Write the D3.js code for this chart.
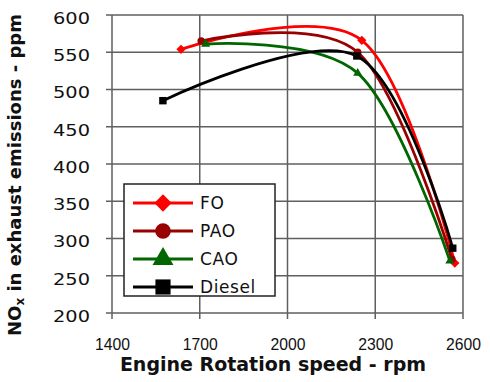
<!DOCTYPE html>
<html>
<head>
<meta charset="utf-8">
<script src="https://cdn.jsdelivr.net/npm/d3@7"></script>
<style>
  body { margin: 0; background: #fff; }
  svg { display: block; }
</style>
</head>
<body>
<div id="chart"></div>
<script>
const WIDTH  = 490;
const HEIGHT = 382;
const PLOT = { left: 112, right: 463, top: 15, bottom: 313 };

// Data
const SERIES   = ['FO', 'PAO', 'CAO', 'Diesel'];
const FO_RPM     = [1636, 2254, 2572];
const FO_NOX     = [554, 566, 267];
const PAO_RPM    = [1705, 2240, 2562];
const PAO_NOX    = [565, 550, 272];
const CAO_RPM    = [1720, 2240, 2555];
const CAO_NOX    = [561, 522, 270];
const DIESEL_RPM = [1574, 2237, 2565];
const DIESEL_NOX = [485, 545, 287];

const X_TICKS = [1400, 1700, 2000, 2300, 2600];
const Y_TICKS = [200, 250, 300, 350, 400, 450, 500, 550, 600];

const COLORS = {
  FO:     '#ff0000',
  PAO:    '#990000',
  CAO:    '#006600',
  Diesel: '#000000',
  grid:   '#5f5f5f'
};
const SYMBOLS = {
  FO:     d3.symbolDiamond2,
  PAO:    d3.symbolCircle,
  CAO:    d3.symbolTriangle,
  Diesel: d3.symbolSquare
};
const MARKER_SIZE = { FO: 55, PAO: 45, CAO: 35, Diesel: 55 };

var rows = {
  FO:     FO_RPM.map((x, i) => ({ x: x, y: FO_NOX[i] })),
  PAO:    PAO_RPM.map((x, i) => ({ x: x, y: PAO_NOX[i] })),
  CAO:    CAO_RPM.map((x, i) => ({ x: x, y: CAO_NOX[i] })),
  Diesel: DIESEL_RPM.map((x, i) => ({ x: x, y: DIESEL_NOX[i] }))
};

var xScale = d3.scaleLinear()
  .domain([1400, 2600])
  .range([PLOT.left, PLOT.right]);
var yScale = d3.scaleLinear()
  .domain([200, 600])
  .range([PLOT.bottom, PLOT.top]);

var svg = d3.select('#chart').append('svg')
  .attr('width', WIDTH)
  .attr('height', HEIGHT)
  .style('background-color', '#fff');

// Grid
var grid = svg.append('g');
grid.selectAll('.hgrid')
    .data(Y_TICKS)
  .enter().append('line')
    .attr('x1', PLOT.left - 6)
    .attr('x2', PLOT.right)
    .attr('y1', d => yScale(d))
    .attr('y2', d => yScale(d))
    .style('stroke', COLORS.grid)
    .style('stroke-width', 1.5);
grid.selectAll('.vgrid')
    .data(X_TICKS)
  .enter().append('line')
    .attr('x1', d => xScale(d))
    .attr('x2', d => xScale(d))
    .attr('y1', PLOT.top)
    .attr('y2', PLOT.bottom + 6)
    .style('stroke', COLORS.grid)
    .style('stroke-width', 1.5);

// Axes (labels only, grid draws lines)
var xAxis = svg.append('g')
  .attr('transform', `translate(0,${PLOT.bottom})`)
  .call(d3.axisBottom(xScale).tickValues(X_TICKS).tickFormat(d3.format('d')).tickSize(6).tickPadding(19));
xAxis.select('.domain').remove();
xAxis.selectAll('line').remove();
xAxis.selectAll('text')
  .attr('font-family', 'Liberation Sans, Arial, sans-serif')
  .attr('font-size', 17)
  .attr('fill', '#111')
  .attr('textLength', 35)
  .attr('lengthAdjust', 'spacingAndGlyphs');

var yAxis = svg.append('g')
  .attr('transform', `translate(${PLOT.left},0)`)
  .call(d3.axisLeft(yScale).tickValues(Y_TICKS).tickSize(6).tickPadding(16));
yAxis.select('.domain').remove();
yAxis.selectAll('line').remove();
yAxis.selectAll('text')
  .attr('font-family', 'DejaVu Sans, sans-serif')
  .attr('font-size', 15)
  .attr('fill', '#111')
  .attr('dy', '0.55em')
  .attr('textLength', 37)
  .attr('lengthAdjust', 'spacingAndGlyphs');

// Series
var line = d3.line()
  .x(d => xScale(d.x))
  .y(d => yScale(d.y))
  .curve(d3.curveCardinal.tension(0));

var plot = svg.append('g');
for (let name of SERIES) {
  let g = plot.append('g').attr('class', 'series');
  g.append('path')
    .datum(rows[name])
    .attr('d', line)
    .style('fill', 'none')
    .style('stroke', COLORS[name])
    .style('stroke-width', 2.8);
  g.selectAll('.marker')
      .data(rows[name])
    .enter().append('path')
      .attr('transform', d => `translate(${xScale(d.x)},${yScale(d.y)})`)
      .attr('d', d3.symbol().type(SYMBOLS[name]).size(MARKER_SIZE[name]))
      .style('fill', COLORS[name]);
}

// Legend
var legend = svg.append('g');
legend.append('clipPath')
    .attr('id', 'legclip')
  .append('rect')
    .attr('x', 124)
    .attr('y', 184)
    .attr('width', 151)
    .attr('height', 112);
legend.append('rect')
  .attr('x', 124)
  .attr('y', 184)
  .attr('width', 151)
  .attr('height', 112)
  .style('fill', '#fff');

var items = legend.append('g')
  .attr('clip-path', 'url(#legclip)')
  .selectAll('.item')
    .data(SERIES)
  .enter().append('g')
    .attr('transform', (d, i) => `translate(0,${203 + i * 28})`);
items.append('line')
  .attr('x1', 133)
  .attr('x2', 193)
  .style('stroke', d => COLORS[d])
  .style('stroke-width', 2.8);
items.append('path')
  .attr('transform', 'translate(163,0)')
  .attr('d', d => d3.symbol().type(SYMBOLS[d]).size(d === 'Diesel' ? 230 : 190)())
  .style('fill', d => COLORS[d]);
items.append('text')
  .attr('x', 200)
  .attr('y', 6)
  .attr('font-family', 'DejaVu Sans, sans-serif')
  .attr('font-size', 17)
  .style('letter-spacing', '0.6px')
  .attr('fill', '#111')
  .text(d => d);

legend.append('rect')
  .attr('x', 124)
  .attr('y', 184)
  .attr('width', 151)
  .attr('height', 112)
  .style('fill', 'none')
  .style('stroke', '#222')
  .style('stroke-width', 1.5);

// Axis titles
svg.append('text')
  .attr('x', 273)
  .attr('y', 371)
  .attr('text-anchor', 'middle')
  .attr('font-family', 'DejaVu Sans, sans-serif')
  .attr('font-weight', 'bold')
  .attr('font-size', 19)
  .attr('fill', '#111')
  .text('Engine Rotation speed - rpm');

var ytitle = svg.append('text')
  .attr('transform', 'translate(21,175) rotate(-90)')
  .attr('text-anchor', 'middle')
  .attr('font-family', 'DejaVu Sans, sans-serif')
  .attr('font-weight', 'bold')
  .attr('font-size', 18)
  .attr('fill', '#111');
ytitle.append('tspan').text('NO');
ytitle.append('tspan')
  .attr('font-size', 12)
  .attr('dy', 3)
  .text('x');
ytitle.append('tspan')
  .attr('dy', -3)
  .text(' in exhaust emissions - ppm');
</script>
</body>
</html>
